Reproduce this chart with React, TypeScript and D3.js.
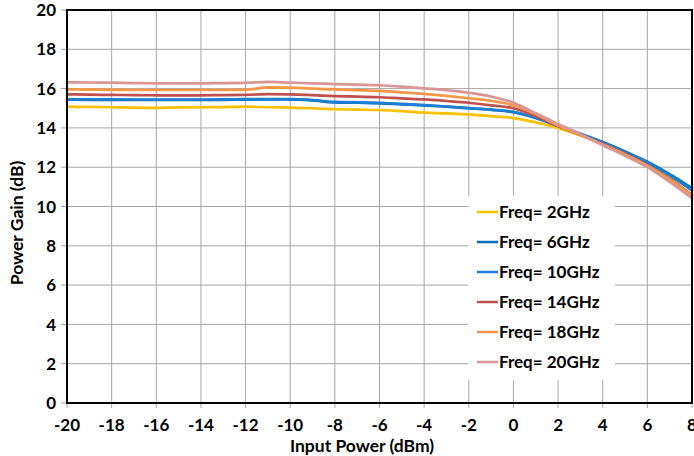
import React from "react";
import * as d3 from "d3";

// Input power sweep (dBm)
const inputPower = [
  -20, -19, -18, -17, -16, -15, -14, -13, -12, -11, -10, -9, -8, -7, -6, -5, -4, -3, -2, -1, 0, 1, 2, 3, 4, 5, 6, 7, 8,
];

// Power gain (dB) per frequency
const gain2GHz = [
  15.08, 15.07, 15.05, 15.03, 15.02, 15.04, 15.05, 15.06, 15.08, 15.05, 15.03, 15.0, 14.95, 14.93, 14.91, 14.85, 14.78,
  14.74, 14.69, 14.6, 14.5, 14.28, 14.0, 13.62, 13.22, 12.75, 12.2, 11.55, 10.84,
];
const gain6GHz = [
  15.44, 15.43, 15.43, 15.42, 15.42, 15.42, 15.42, 15.43, 15.44, 15.45, 15.45, 15.4, 15.3, 15.28, 15.25, 15.2, 15.15,
  15.08, 15.0, 14.92, 14.8, 14.5, 14.1, 13.7, 13.28, 12.8, 12.28, 11.65, 10.93,
];
const gain10GHz = [
  15.46, 15.45, 15.45, 15.44, 15.44, 15.44, 15.44, 15.45, 15.46, 15.47, 15.46, 15.41, 15.32, 15.3, 15.27, 15.22, 15.16,
  15.09, 15.01, 14.93, 14.82, 14.52, 14.1, 13.7, 13.27, 12.78, 12.24, 11.58, 10.82,
];
const gain14GHz = [
  15.71, 15.69, 15.68, 15.67, 15.66, 15.66, 15.66, 15.67, 15.68, 15.72, 15.71, 15.67, 15.62, 15.59, 15.56, 15.5, 15.45,
  15.37, 15.28, 15.15, 15.0, 14.6, 14.1, 13.65, 13.18, 12.68, 12.1, 11.4, 10.58,
];
const gain18GHz = [
  15.96, 15.95, 15.94, 15.93, 15.93, 15.93, 15.93, 15.93, 15.94, 16.06, 16.05, 16.0, 15.96, 15.92, 15.88, 15.81, 15.73,
  15.63, 15.51, 15.38, 15.15, 14.7, 14.12, 13.65, 13.15, 12.65, 12.08, 11.38, 10.55,
];
const gain20GHz = [
  16.32, 16.31, 16.3, 16.28, 16.27, 16.27, 16.27, 16.28, 16.29, 16.34, 16.3, 16.27, 16.23, 16.2, 16.17, 16.1, 16.01,
  15.92, 15.79, 15.6, 15.28, 14.75, 14.2, 13.68, 13.12, 12.58, 12.0, 11.25, 10.42,
];

const seriesNames = ["Freq= 2GHz", "Freq= 6GHz", "Freq= 10GHz", "Freq= 14GHz", "Freq= 18GHz", "Freq= 20GHz"];
const seriesValues = [gain2GHz, gain6GHz, gain10GHz, gain14GHz, gain18GHz, gain20GHz];
const seriesColors = ["#FFC000", "#0070C0", "#1C7FD3", "#C0504D", "#F79646", "#D99694"];

const xTicks = d3.range(-20, 9, 2);
const yTicks = d3.range(0, 21, 2);

const W = 694;
const H = 456;
const plot = { left: 67, right: 692, top: 10, bottom: 403 };
const FONT = "Lato, 'Open Sans', sans-serif";

export default function App() {
  const x = d3.scaleLinear().domain([-20, 8]).range([plot.left, plot.right]);
  const y = d3.scaleLinear().domain([0, 20]).range([plot.bottom, plot.top]);
  const line = d3
    .line<number>()
    .x((_, i) => x(inputPower[i]))
    .y((v) => y(v))
    .curve(d3.curveMonotoneX);

  const legend = { x: 468, y: 196, w: 147, h: 184 };

  return (
    <svg
      width={W}
      height={H}
      viewBox={`0 0 ${W} ${H}`}
      style={{ position: "absolute", left: 0, top: 0, background: "#fff" }}
      fontFamily={FONT}
    >
      {/* grid */}
      <g stroke="#a6a6a6" strokeWidth={1}>
        {xTicks.map((t) => (
          <line key={"gx" + t} x1={x(t)} x2={x(t)} y1={plot.top} y2={plot.bottom + 5} />
        ))}
        {yTicks.map((t) => (
          <line key={"gy" + t} x1={plot.left - 6} x2={plot.right} y1={y(t)} y2={y(t)} />
        ))}
      </g>

      {/* series */}
      <g fill="none" strokeWidth={2.7} strokeLinejoin="round" strokeLinecap="round">
        {seriesValues.map((vals, i) => (
          <path key={seriesNames[i]} d={line(vals) ?? ""} stroke={seriesColors[i]} />
        ))}
      </g>

      {/* plot frame */}
      <rect
        x={plot.left}
        y={plot.top}
        width={plot.right - plot.left}
        height={plot.bottom - plot.top}
        fill="none"
        stroke="#000"
        strokeWidth={2}
      />

      {/* y tick labels */}
      <g fontSize={17} fontWeight={700} fill="#000" textAnchor="end">
        {yTicks.map((t) => (
          <text key={"ty" + t} x={plot.left - 11} y={y(t)} dy="0.36em">
            {t}
          </text>
        ))}
      </g>

      {/* x tick labels */}
      <g fontSize={17} fontWeight={700} fill="#000" textAnchor="middle">
        {xTicks.map((t) => (
          <text key={"tx" + t} x={x(t)} y={431}>
            {t}
          </text>
        ))}
      </g>

      {/* axis titles */}
      <text x={362} y={452} fontSize={17.5} fontWeight={700} textAnchor="middle">
        Input Power (dBm)
      </text>
      <text transform="translate(23, 223) rotate(-90)" fontSize={17.5} fontWeight={700} textAnchor="middle">
        Power Gain (dB)
      </text>

      {/* legend */}
      <rect x={legend.x} y={legend.y} width={legend.w} height={legend.h} fill="#fff" />
      {seriesNames.map((name, i) => {
        const cy = 212 + i * 30;
        return (
          <g key={"lg" + name}>
            <line x1={477} x2={498} y1={cy} y2={cy} stroke={seriesColors[i]} strokeWidth={2.5} />
            <text x={499} y={cy} dy="0.36em" fontSize={17} fontWeight={700} fill="#000">
              {name}
            </text>
          </g>
        );
      })}
    </svg>
  );
}
